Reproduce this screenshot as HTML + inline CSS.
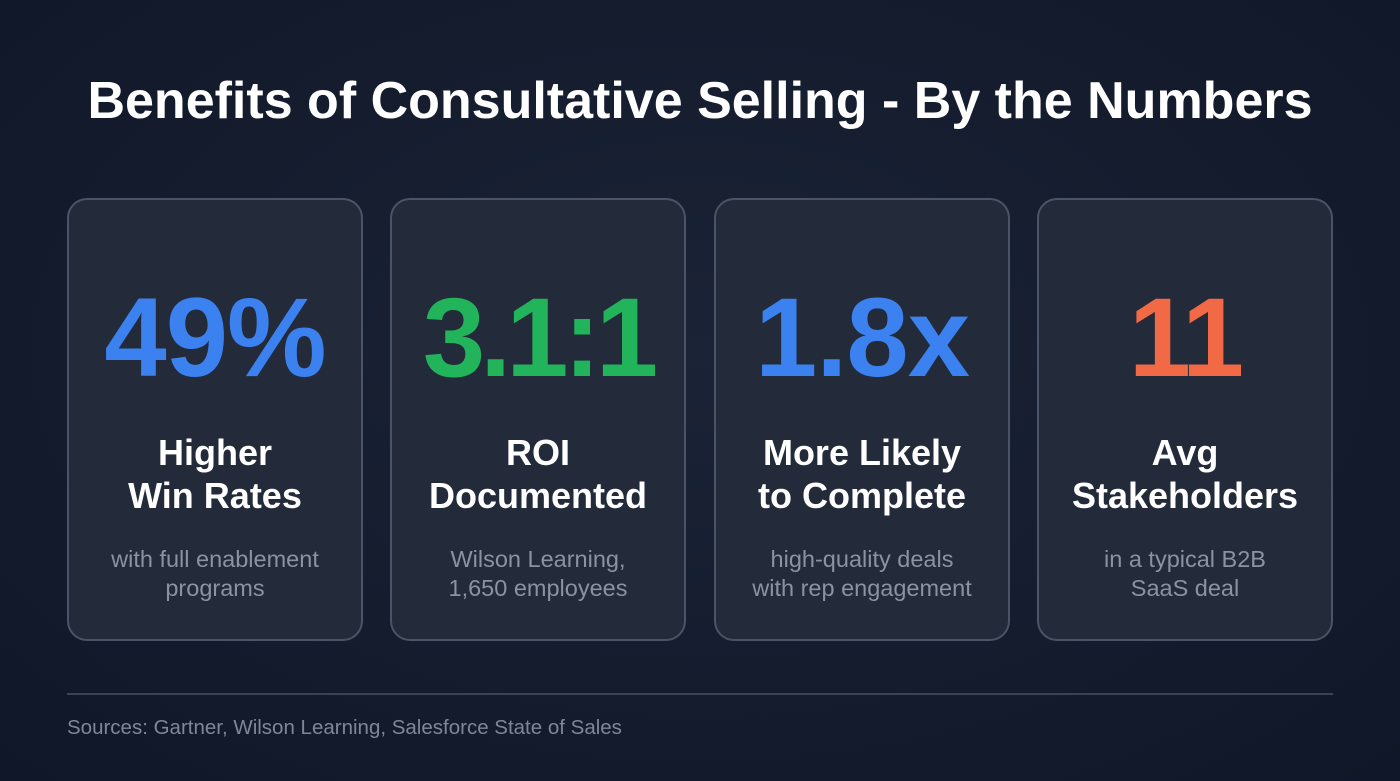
<!DOCTYPE html>
<html><head><meta charset="utf-8"><style>
html,body{margin:0;padding:0}
body{width:1400px;height:781px;overflow:hidden;background:radial-gradient(ellipse at 50% 45%,#1b2336 0%,#141c2e 55%,#0f1728 100%);font-family:"Liberation Sans",sans-serif;position:relative;color:#fff}
h1{position:absolute;left:0;top:69px;width:1400px;margin:0;text-align:center;font-size:52px;font-weight:700;line-height:64px;color:#fff}
.card{position:absolute;top:198px;width:296px;height:443px;border:2px solid #4b5366;border-radius:20px;background:#232a3a;text-align:center;box-sizing:border-box}
.num{position:absolute;left:0;width:100%;font-size:112px;font-weight:700;line-height:140px;letter-spacing:-1px;top:68px}
.lbl{position:absolute;left:0;width:100%;top:231px;font-size:36px;font-weight:700;line-height:43px;color:#fff}
.sub{position:absolute;left:0;width:100%;top:345px;font-size:23.5px;line-height:29px;color:#8a93a3}
.rule{position:absolute;left:67px;top:693px;width:1266px;height:2px;background:#3a4254}
.src{position:absolute;left:67px;top:716px;font-size:20.5px;color:#7e8798}
</style></head><body>
<h1>Benefits of Consultative Selling - By the Numbers</h1>
<div class="card" style="left:67px">
<div class="num" style="color:#3b82f0">49%</div>
<div class="lbl">Higher<br>Win Rates</div>
<div class="sub">with full enablement<br>programs</div></div>
<div class="card" style="left:390px">
<div class="num" style="color:#22b45a;letter-spacing:-5px">3.1:1</div>
<div class="lbl">ROI<br>Documented</div>
<div class="sub">Wilson Learning,<br>1,650 employees</div></div>
<div class="card" style="left:714px">
<div class="num" style="color:#3b82f0">1.8x</div>
<div class="lbl">More Likely<br>to Complete</div>
<div class="sub">high-quality deals<br>with rep engagement</div></div>
<div class="card" style="left:1037px">
<div class="num" style="color:#f26a45;letter-spacing:-3px">11</div>
<div class="lbl">Avg<br>Stakeholders</div>
<div class="sub">in a typical B2B<br>SaaS deal</div></div>
<div class="rule"></div>
<div class="src">Sources: Gartner, Wilson Learning, Salesforce State of Sales</div>
</body></html>
